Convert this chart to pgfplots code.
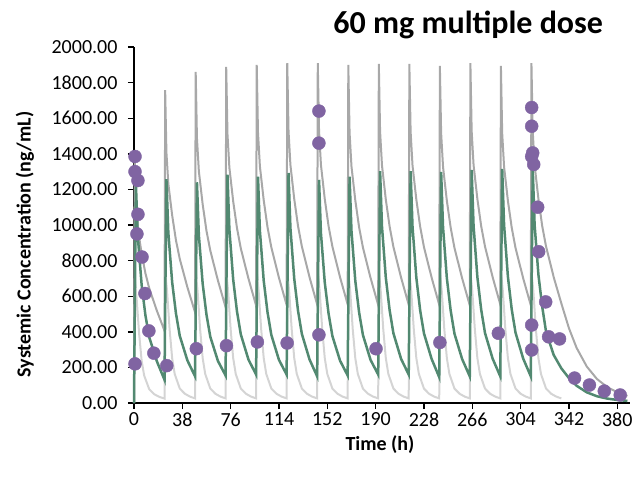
\documentclass[border=0pt]{standalone}
\usepackage{fontspec}
\setmainfont{Carlito}
\usepackage{pgfplots}
\pgfplotsset{compat=1.18}
\definecolor{pkGreen}{RGB}{82,137,113}
\definecolor{pkDark}{RGB}{168,168,168}
\definecolor{pkLight}{RGB}{212,212,212}
\definecolor{pkPurple}{RGB}{128,100,162}
\begin{document}
\begin{tikzpicture}
\useasboundingbox (-134pt,-80pt) rectangle (503pt,403pt);
\begin{axis}[
  at={(0pt,0pt)}, anchor=south west,
  scale only axis, width=496pt, height=356pt,
  xmin=0, xmax=390, ymin=0, ymax=2000,
  clip=false,
  axis x line*=bottom, axis y line*=left,
  axis line style={line width=1.6pt, black, -},
  xtick={0,38,...,380}, ytick={0,200,...,2000},
  tick align=outside, major tick length=6pt,
  tick style={line width=1.4pt, black},
  ticklabel style={font=\fontsize{20}{21}\selectfont},
  /pgf/number format/assume math mode=true,
  yticklabel style={xshift=-7pt, /pgf/number format/.cd, fixed, fixed zerofill,
    precision=2, 1000 sep={}, assume math mode=true},
  xticklabel style={/pgf/number format/.cd, fixed, precision=0,
    assume math mode=true},
  xlabel={Time (h)},
  ylabel={Systemic Concentration (ng/mL)},
  label style={font=\bfseries\fontsize{20}{22}\selectfont},
  xlabel style={at={(axis description cs:0.496,-0.118)}, anchor=center},
  ylabel style={at={(axis description cs:-0.22,0.445)}, anchor=center},
  title={60 mg multiple dose},
  title style={font=\bfseries\fontsize{32}{34}\selectfont, inner sep=0pt,
    at={(axis description cs:0.946,1.045)}, anchor=east},
]
% lower bound (light grey)
\addplot[pkLight, line width=2pt] coordinates {
(0,0) (0.5,700) (2,595) (4,392) (6,238) (8,154) (12,77) (16,49) (20,34) (24,25)
(24.5,740) (26,629) (28,414) (30,252) (32,163) (36,81) (40,52) (44,36) (48,26)
(48.5,740) (50,629) (52,414) (54,252) (56,163) (60,81) (64,52) (68,36) (72,26)
(72.5,740) (74,629) (76,414) (78,252) (80,163) (84,81) (88,52) (92,36) (96,26)
(96.5,740) (98,629) (100,414) (102,252) (104,163) (108,81) (112,52) (116,36) (120,26)
(120.5,740) (122,629) (124,414) (126,252) (128,163) (132,81) (136,52) (140,36) (144,26)
(144.5,740) (146,629) (148,414) (150,252) (152,163) (156,81) (160,52) (164,36) (168,26)
(168.5,740) (170,629) (172,414) (174,252) (176,163) (180,81) (184,52) (188,36) (192,26)
(192.5,740) (194,629) (196,414) (198,252) (200,163) (204,81) (208,52) (212,36) (216,26)
(216.5,740) (218,629) (220,414) (222,252) (224,163) (228,81) (232,52) (236,36) (240,26)
(240.5,740) (242,629) (244,414) (246,252) (248,163) (252,81) (256,52) (260,36) (264,26)
(264.5,740) (266,629) (268,414) (270,252) (272,163) (276,81) (280,52) (284,36) (288,26)
(288.5,740) (290,629) (292,414) (294,252) (296,163) (300,81) (304,52) (308,36) (312,26)
(312.5,740) (314,629) (316,414) (318,252) (320,163) (324,81) (328,52) (332,36) (336,26)
};
% upper bound (dark grey)
\addplot[pkDark, line width=2pt] coordinates {
(0,0) (0.5,1400) (1.5,1120) (3,980) (6,840) (9,728) (12,644) (18,518) (24,406)
(24.5,1758) (25.5,1406) (27,1231) (30,1055) (33,914) (36,809) (42,650) (48,510)
(48.5,1860) (49.5,1488) (51,1302) (54,1116) (57,967) (60,856) (66,688) (72,539)
(72.5,1888) (73.5,1510) (75,1322) (78,1133) (81,982) (84,868) (90,699) (96,548)
(96.5,1899) (97.5,1519) (99,1329) (102,1139) (105,987) (108,874) (114,703) (120,551)
(120.5,1910) (121.5,1528) (123,1337) (126,1146) (129,993) (132,879) (138,707) (144,554)
(144.5,1910) (145.5,1528) (147,1337) (150,1146) (153,993) (156,879) (162,707) (168,554)
(168.5,1899) (169.5,1519) (171,1329) (174,1139) (177,987) (180,874) (186,703) (192,551)
(192.5,1905) (193.5,1524) (195,1334) (198,1143) (201,991) (204,876) (210,705) (216,552)
(216.5,1905) (217.5,1524) (219,1334) (222,1143) (225,991) (228,876) (234,705) (240,552)
(240.5,1894) (241.5,1515) (243,1326) (246,1136) (249,985) (252,871) (258,701) (264,549)
(264.5,1910) (265.5,1528) (267,1337) (270,1146) (273,993) (276,879) (282,707) (288,554)
(288.5,1894) (289.5,1515) (291,1326) (294,1136) (297,985) (300,871) (306,701) (312,549)
(312.5,1910) (313.5,1528) (315,1337) (318,1146) (321,993) (324,879) (330,707) (336,560)
(342,420) (348,310) (356,205) (364,135) (372,90) (380,60) (388,40)
};
% median (green)
\addplot[pkGreen, line width=2.5pt] coordinates {
(0,0) (1.5,1230) (3,935) (6,664) (9,492) (12,369) (18,234) (24,130)
(25.5,1258) (27,956) (30,679) (33,503) (36,377) (42,239) (48,150)
(49.5,1240) (51,942) (54,670) (57,496) (60,372) (66,236) (72,155)
(73.5,1283) (75,975) (78,693) (81,513) (84,385) (90,244) (96,160)
(97.5,1272) (99,967) (102,687) (105,509) (108,382) (114,242) (120,160)
(121.5,1292) (123,982) (126,698) (129,517) (132,388) (138,245) (144,150)
(145.5,1254) (147,953) (150,677) (153,502) (156,376) (162,238) (168,155)
(169.5,1272) (171,967) (174,687) (177,509) (180,382) (186,242) (192,160)
(193.5,1303) (195,990) (198,704) (201,521) (204,391) (210,248) (216,160)
(217.5,1303) (219,990) (222,704) (225,521) (228,391) (234,248) (240,145)
(241.5,1298) (243,986) (246,701) (249,519) (252,389) (258,247) (264,150)
(265.5,1309) (267,995) (270,707) (273,524) (276,393) (282,249) (288,150)
(289.5,1315) (291,999) (294,710) (297,526) (300,395) (306,250) (312,150)
(313.5,1322) (315,1000) (318,720) (321,540) (324,400) (330,270) (336,195)
(342,140) (348,97) (356,60) (364,38) (372,25) (380,17) (388,12)
};
% observed
\addplot[only marks, mark=*, mark size=6.5pt,
  mark options={fill=pkPurple, draw=pkPurple}] coordinates {
(0.8,1385) (0.8,1300) (3.1,1250) (3.1,1060) (2.3,950) (6.3,820) (8.6,615)
(11.7,405) (15.6,280) (0.8,220) (25.8,210) (49,305) (72.7,322) (97,343)
(120.4,337) (145.4,383) (145.4,1460) (145.4,1640) (190.3,305) (240.5,340)
(286.5,392) (312.7,438) (312.7,298) (312.7,1660) (312.7,1555) (313.5,1405)
(312.7,1385) (314.3,1340) (317.4,1100) (318.2,850) (323.7,568) (326,372)
(334.6,360) (346.4,140) (358.1,101) (369.8,67) (382.3,45)
};
\end{axis}
\end{tikzpicture}
\end{document}
